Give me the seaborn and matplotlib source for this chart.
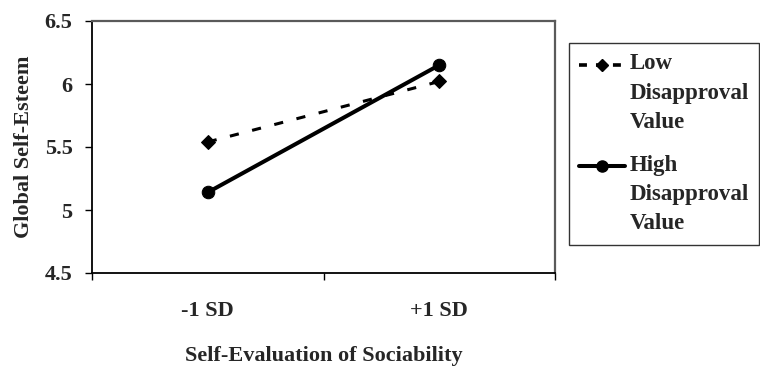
import matplotlib
matplotlib.use("Agg")
import matplotlib.pyplot as plt
import seaborn as sns
import pandas as pd
import numpy as np
from matplotlib.lines import Line2D
from matplotlib.legend_handler import HandlerLine2D

categories = ["-1 SD", "+1 SD"]
low_values = [5.54, 6.02]
high_values = [5.14, 6.15]
series_names = ["Low\nDisapproval\nValue", "High\nDisapproval\nValue"]
y_ticks = [4.5, 5, 5.5, 6, 6.5]
y_tick_labels = ["4.5", "5", "5.5", "6", "6.5"]

df = pd.DataFrame({
    "x": categories * 2,
    "y": low_values + high_values,
    "group": [series_names[0]] * 2 + [series_names[1]] * 2,
})

sns.set_theme(style="white")
plt.rcParams["font.family"] = ["Liberation Serif", "DejaVu Serif"]
plt.rcParams["font.weight"] = "bold"

FS = 16
LFS = 16.5
LSP = 1.52
fig = plt.figure(figsize=(7.6, 3.67), dpi=100)
ax = fig.add_axes([92/760, 1-273/367, (555-92)/760, (273-21)/367])

sns.lineplot(data=df, x="x", y="y", hue="group", style="group",
             palette=["black", "black"],
             dashes={series_names[0]: (3, 4.5), series_names[1]: ""},
             markers={series_names[0]: "D", series_names[1]: "o"},
             linewidth=2.2, ax=ax, legend=False, sort=False)
for line, ms in zip(ax.lines, [7, 9]):
    line.set_markersize(ms)
    line.set_markeredgecolor("black")
    line.set_markerfacecolor("black")
ax.lines[1].set_linewidth(2.9)

ax.set_xlim(-0.5, 1.5)
ax.set_ylim(4.5, 6.5)
ax.set_xticks([0, 1])
ax.set_xticklabels(categories, fontsize=FS, fontweight="bold")
ax.set_xticks([-0.5, 0.5, 1.5], minor=True)
ax.tick_params(axis="x", which="major", length=0, pad=20, bottom=True)
ax.tick_params(axis="x", which="minor", length=5, width=1, color="black",
               direction="out", bottom=True)
ax.set_yticks(y_ticks)
ax.set_yticklabels(y_tick_labels, fontsize=FS, fontweight="bold")
ax.tick_params(axis="y", length=5, width=1, color="black", direction="out",
               left=True, pad=9)

for s in ["left", "bottom"]:
    ax.spines[s].set_color("black")
    ax.spines[s].set_linewidth(1.3)
for s in ["top", "right"]:
    ax.spines[s].set_color("#5a5a5a")
    ax.spines[s].set_linewidth(1.6)
ax.grid(False)

ax.set_xlabel("Self-Evaluation of Sociability", fontsize=FS, fontweight="bold", labelpad=18)
ax.set_ylabel("Global Self-Esteem", fontsize=FS, fontweight="bold", labelpad=8)


class TopLineHandler(HandlerLine2D):
    """Align the legend handle with the first line of a multi-line label."""
    def create_artists(self, legend, orig_handle, xdescent, ydescent,
                       width, height, fontsize, trans):
        artists = super().create_artists(legend, orig_handle, xdescent, ydescent,
                                         width, height, fontsize, trans)
        shift = fontsize * LSP * 0.805
        for a in artists:
            a.set_ydata(np.asarray(a.get_ydata()) + shift)
        return artists


handles = [
    Line2D([], [], color="black", linestyle=(0, (2.2, 2.5)), linewidth=2.6,
           marker="D", markersize=6),
    Line2D([], [], color="black", linestyle="-", linewidth=2.9,
           marker="o", markersize=8),
]
leg = fig.legend(handles, series_names, loc="upper left",
                 bbox_to_anchor=(569/760, 1-43/367),
                 prop={"family": "Liberation Serif", "weight": "bold", "size": LFS},
                 frameon=True, fancybox=False, edgecolor="black",
                 handlelength=2.0, handletextpad=0.2, labelspacing=0.95,
                 borderpad=0.45, borderaxespad=0,
                 handler_map={Line2D: TopLineHandler()})
leg.get_frame().set_linewidth(1.0)
for t in leg.get_texts():
    t.set_linespacing(LSP)

fig.savefig("out.png", dpi=100)
